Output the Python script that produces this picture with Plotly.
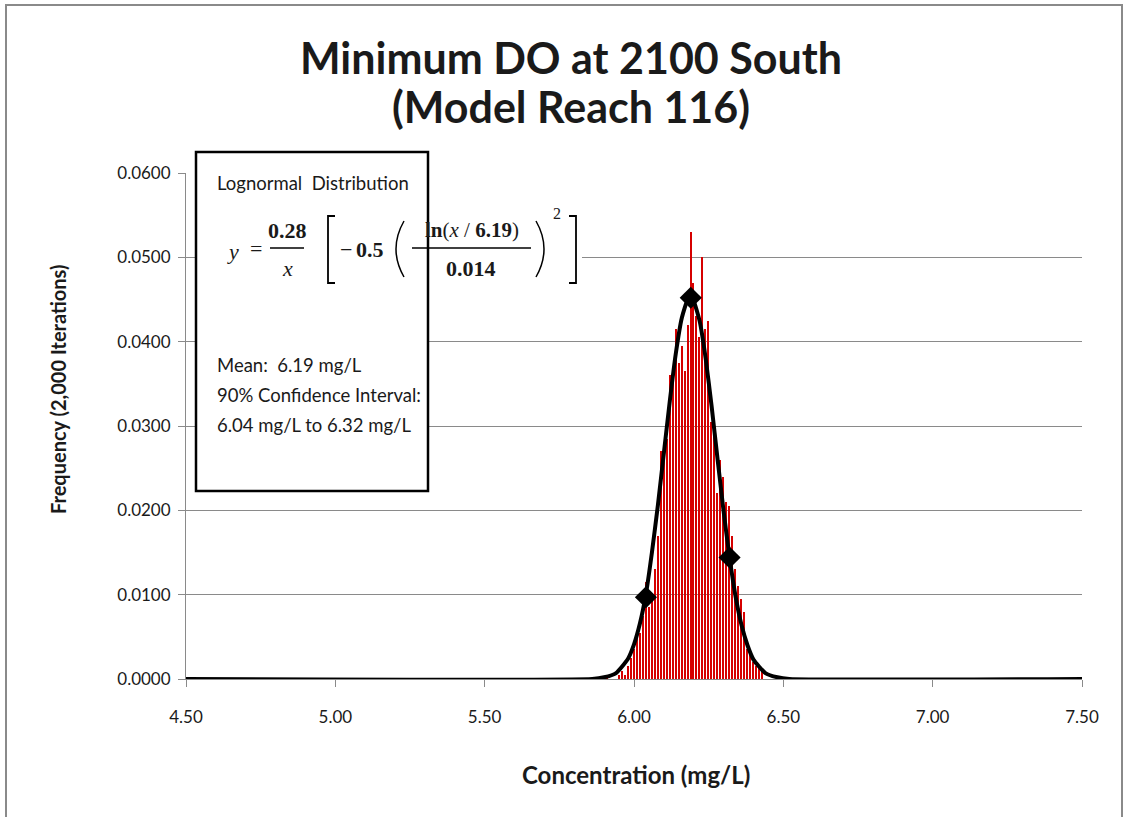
import plotly.graph_objects as go

# histogram of 2,000 iterations: bin centre (mg/L) and relative frequency
conc_bins = [5.91, 5.92, 5.93, 5.94, 5.95, 5.96, 5.97, 5.98, 5.99, 6.00,
             6.01, 6.02, 6.03, 6.04, 6.05, 6.06, 6.07, 6.08, 6.09, 6.10,
             6.11, 6.12, 6.13, 6.14, 6.15, 6.16, 6.17, 6.18, 6.19, 6.20,
             6.21, 6.22, 6.23, 6.24, 6.25, 6.26, 6.27, 6.28, 6.29, 6.30,
             6.31, 6.32, 6.33, 6.34, 6.35, 6.36, 6.37, 6.38, 6.39, 6.40,
             6.41, 6.42, 6.43]
freq = [0.0005, 0.0000, 0.0000, 0.0000, 0.0005, 0.0010, 0.0005, 0.0015, 0.0025, 0.0035,
        0.0055, 0.0055, 0.0075, 0.0115, 0.0085, 0.0095, 0.0130, 0.0170, 0.0270, 0.0280,
        0.0285, 0.0360, 0.0355, 0.0415, 0.0375, 0.0395, 0.0365, 0.0420, 0.0530, 0.0470,
        0.0430, 0.0405, 0.0500, 0.0415, 0.0425, 0.0305, 0.0300, 0.0220, 0.0260, 0.0240,
        0.0210, 0.0205, 0.0170, 0.0130, 0.0110, 0.0095, 0.0080, 0.0035, 0.0030, 0.0020,
        0.0015, 0.0015, 0.0010]

# fitted lognormal curve as drawn on the chart
curve_x = [4.50, 5.86, 5.90, 5.94, 5.98, 6.00, 6.02, 6.04, 6.06, 6.08, 6.10, 6.12,
           6.14, 6.16, 6.18, 6.19, 6.20, 6.22, 6.24, 6.26, 6.28, 6.30, 6.32, 6.34,
           6.36, 6.38, 6.40, 6.44, 6.48, 6.52, 7.50]
curve_y = [0.0, 0.0, 0.0002, 0.0007, 0.0024, 0.0041, 0.0066, 0.0101, 0.0150, 0.0206,
           0.0268, 0.0330, 0.0386, 0.0428, 0.0450, 0.0452, 0.0448, 0.0424, 0.0380,
           0.0323, 0.0260, 0.0199, 0.0144, 0.0098, 0.0064, 0.0040, 0.0023, 0.0007,
           0.0002, 0.0, 0.0]

# mean and 90% confidence bounds
stat_x = [6.04, 6.19, 6.32]
stat_y = [0.0097, 0.0452, 0.0144]

W, H = 1126, 817
L, R, T, B = 186, 1082, 173, 679


def px(x):
    return (x - L) / (R - L)


def py(y):
    return (B - y) / (B - T)


fig = go.Figure()
fig.add_trace(go.Bar(x=conc_bins, y=freq, width=0.005,
                     marker=dict(color='rgb(214,0,0)', line=dict(width=0))))
fig.add_trace(go.Scatter(x=curve_x, y=curve_y, mode='lines',
                         line=dict(color='black', width=4, shape='spline', smoothing=0.5)))
fig.add_trace(go.Scatter(x=stat_x, y=stat_y, mode='markers',
                         marker=dict(symbol='diamond', size=17, color='black')))

sans = 'Lato'
serif = 'Liberation Serif'
ink = '#1a1a1a'

ann = []


def txt(s, x, y, size=19, family=sans, anchor='left', angle=0):
    ann.append(dict(text=s, x=px(x), y=py(y), xref='paper', yref='paper', showarrow=False,
                    xanchor=anchor, yanchor='middle', textangle=angle,
                    font=dict(family=family, size=size, color=ink)))

# titles
txt('<b>Minimum DO at 2100 South</b>', 571, 58, 43, anchor='center')
txt('<b>(Model Reach 116)</b>', 571, 106, 43, anchor='center')
txt('<b>Concentration (mg/L)</b>', 636, 774, 24, anchor='center')
txt('<b>Frequency (2,000 Iterations)</b>', 58, 390, 20, anchor='center', angle=-90)

# text box
txt('Lognormal  Distribution', 215, 183, 18.5)
txt('Mean:  6.19 mg/L', 215, 365, 18.5)
txt('90% Confidence Interval:', 215, 395, 18.5)
txt('6.04 mg/L to 6.32 mg/L', 215, 425, 18.5)

# equation
txt('<i>y</i>', 233, 251, 22, serif, 'center')
txt('=', 256, 248, 22, serif, 'center')
txt('<b>0.28</b>', 287, 230, 22, serif, 'center')
txt('<i>x</i>', 287, 268, 22, serif, 'center')
txt('\u2212', 346, 249, 22, serif, 'center')
txt('<b>0.5</b>', 370, 249, 22, serif, 'center')
txt('<b>ln</b>(<i>x</i> / <b>6.19</b>)', 472, 230, 21, serif, 'center')
txt('<b>0.014</b>', 471, 268, 22, serif, 'center')
txt('2', 557, 213, 16, serif, 'center')

shapes = []
line_k = dict(color='black', width=1.5)
# white backing of the equation where it overhangs the box
shapes.append(dict(type='rect', xref='paper', yref='paper', x0=px(428), x1=px(582), y0=py(292), y1=py(205),
                   fillcolor='white', line=dict(width=0), layer='above'))
# text box
shapes.append(dict(type='rect', xref='paper', yref='paper', x0=px(196), x1=px(428), y0=py(491), y1=py(152),
                   fillcolor='white', line=dict(color='black', width=2.5), layer='above'))
# fraction bars
shapes.append(dict(type='line', xref='paper', yref='paper', x0=px(270), x1=px(304), y0=py(248), y1=py(248), line=line_k))
shapes.append(dict(type='line', xref='paper', yref='paper', x0=px(412), x1=px(531), y0=py(248), y1=py(248), line=line_k))


def path(pts, curve=False):
    if curve:
        (x0, y0), (xc, yc), (x1, y1) = pts
        return 'M {} {} Q {} {} {} {}'.format(px(x0), py(y0), px(xc), py(yc), px(x1), py(y1))
    s = 'M {} {}'.format(px(pts[0][0]), py(pts[0][1]))
    for x, y in pts[1:]:
        s += ' L {} {}'.format(px(x), py(y))
    return s

# square brackets
shapes.append(dict(type='path', xref='paper', yref='paper', path=path([(335, 216), (328, 216), (328, 283), (335, 283)]), line=dict(color='black', width=1.8)))
shapes.append(dict(type='path', xref='paper', yref='paper', path=path([(569, 216), (576, 216), (576, 283), (569, 283)]), line=dict(color='black', width=1.8)))
# round brackets
shapes.append(dict(type='path', xref='paper', yref='paper', path=path([(404, 221), (388, 249), (404, 277)], True), line=line_k))
shapes.append(dict(type='path', xref='paper', yref='paper', path=path([(536, 221), (552, 249), (536, 277)], True), line=line_k))
# outer chart border
shapes.append(dict(type='rect', xref='paper', yref='paper', x0=px(6), x1=px(1122), y0=py(830), y1=py(5),
                   line=dict(color='#8a8a8a', width=2), layer='below'))

fig.update_layout(
    width=W, height=H,
    margin=dict(l=L, r=W - R, t=T, b=H - B),
    paper_bgcolor='white', plot_bgcolor='white',
    showlegend=False, bargap=0,
    font=dict(family=sans, size=17, color=ink),
    annotations=ann, shapes=shapes,
    xaxis=dict(range=[4.5, 7.5], tickvals=[4.5, 5.0, 5.5, 6.0, 6.5, 7.0, 7.5], tickformat='.2f',
               showgrid=False, zeroline=False, showline=True, linecolor='#8a8a8a', linewidth=1,
               ticks='outside', ticklen=7, tickcolor='#8a8a8a', ticklabelstandoff=16),
    yaxis=dict(range=[0, 0.06], dtick=0.01, tickformat='.4f',
               showgrid=True, gridcolor='#8a8a8a', gridwidth=1, zeroline=False,
               showline=True, linecolor='#8a8a8a', linewidth=1,
               ticks='outside', ticklen=7, tickcolor='#8a8a8a', ticklabelstandoff=4),
)

fig.write_html('out.html', config={'displayModeBar': False},
               post_script="document.body.style.margin='0';document.body.style.overflow='hidden';")
